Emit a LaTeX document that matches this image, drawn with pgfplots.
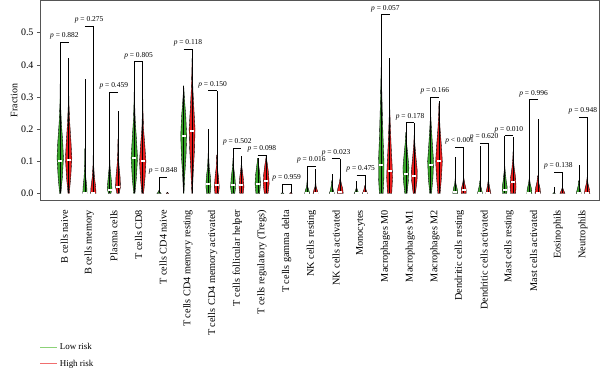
\documentclass[border=0pt]{standalone}
\usepackage{fontspec}
\setmainfont{Liberation Serif}
\usepackage{pgfplots}
\pgfplotsset{compat=1.18}
\definecolor{vgreen}{RGB}{55,165,40}
\definecolor{vred}{RGB}{232,28,28}
\definecolor{framec}{RGB}{85,85,85}
\definecolor{lgreen}{RGB}{140,210,120}
\definecolor{lred}{RGB}{240,110,110}
% violin half-profiles: y  halfwidth (x units)
\newcommand{\V}[4]{%
  \addplot[forget plot, draw=black, line width=0.35pt, fill=#2] table[x expr=#1+\thisrow{w}, y=y, row sep=\\]{y w\\#4};
  \addplot[forget plot, draw=black, line width=0.35pt, fill=#2] table[x expr=#1-\thisrow{w}, y=y, row sep=\\]{y w\\#4};
  \addplot[forget plot, black, line width=0.45pt] coordinates {(#1,0) (#1,#3)};
}
\newcommand{\M}[2]{\addplot[forget plot, only marks, mark=-, mark size=2pt, mark options={draw=white, line width=2pt}] coordinates {(#1,#2)};}
\newcommand{\Pv}[5]{%
  \addplot[forget plot, black, line width=0.45pt] coordinates {(#1,#4) (#2,#4)};
  \node[anchor=base, yshift=4.5bp, font=\fontsize{7.5}{8}\selectfont] at (axis cs:#3,#4) {\textit{p} #5};
}
\begin{document}
\begin{tikzpicture}
\begin{axis}[
  name=ax,
  width=559bp, height=200bp, scale only axis,
  xmin=0.01, xmax=22.65, ymin=-0.022, ymax=0.6,
  xtick={1,2,3,4,5,6,7,8,9,10,11,12,13,14,15,16,17,18,19,20,21,22},
  xticklabels={B cells naive, B cells memory, Plasma cells, T cells CD8, T cells CD4 naive, T cells CD4 memory resting, T cells CD4 memory activated, T cells follicular helper, T cells regulatory (Tregs), T cells gamma delta, NK cells resting, NK cells activated, Monocytes, Macrophages M0, Macrophages M1, Macrophages M2, Dendritic cells resting, Dendritic cells activated, Mast cells resting, Mast cells activated, Eosinophils, Neutrophils},
  xticklabel style={rotate=90, anchor=east, font=\fontsize{10.3}{12}\selectfont},
  xticklabel shift=3bp,
  major x tick style={draw=none},
  ytick={0,0.1,0.2,0.3,0.4,0.5},
  yticklabel style={font=\fontsize{10}{12}\selectfont, /pgf/number format/fixed, /pgf/number format/fixed zerofill, /pgf/number format/precision=1, /pgf/number format/assume math mode=true},
  tick align=outside, ytick pos=left, xtick pos=bottom,
  major y tick style={framec, line width=0.6pt},
  major tick length=3bp,
  axis line style={framec, line width=0.8pt},
  ylabel={Fraction},
  ylabel style={at={(axis description cs:-0.0465,0.5)}, anchor=center, font=\fontsize{10}{12}\selectfont},
  legend style={at={(axis description cs:0,-0.695)}, anchor=north west, draw=none, fill=none, font=\fontsize{9}{10}\selectfont, inner xsep=0pt, row sep=4.5bp},
  legend cell align=left,
  legend image code/.code={\draw[#1, line width=0.6pt] (0bp,0bp) -- (17bp,0bp);},
]
\addlegendimage{lgreen}
\addlegendentry{Low risk}
\addlegendimage{lred}
\addlegendentry{High risk}
% 1 B cells naive
\V{0.83}{vgreen}{0.47}{0 0\\0 0.025\\0.05 0.085\\0.11 0.13\\0.16 0.10\\0.22 0.045\\0.28 0.012\\0.36 0\\}
\V{1.17}{vred}{0.42}{0 0\\0 0.025\\0.05 0.085\\0.11 0.13\\0.16 0.095\\0.22 0.045\\0.28 0.012\\0.34 0\\}
\M{0.83}{0.10}\M{1.17}{0.105}
\Pv{0.83}{1.17}{1}{0.47}{= 0.882}
% 2 B cells memory
\V{1.83}{vgreen}{0.357}{0 0\\0 0.085\\0.02 0.075\\0.05 0.035\\0.09 0.01\\0.14 0\\}
\V{2.17}{vred}{0.52}{0 0\\0 0.11\\0.02 0.095\\0.05 0.045\\0.09 0.012\\0.15 0\\}
\M{1.83}{0.0}\M{2.17}{0.0}
\Pv{1.83}{2.17}{2}{0.52}{= 0.275}
% 3 Plasma cells
\V{2.83}{vgreen}{0.316}{0 0\\0 0.05\\0.015 0.095\\0.04 0.07\\0.08 0.02\\0.12 0\\}
\V{3.17}{vred}{0.255}{0 0\\0 0.045\\0.02 0.10\\0.05 0.085\\0.09 0.035\\0.13 0.01\\0.17 0\\}
\M{2.83}{0.012}\M{3.17}{0.02}
\Pv{2.83}{3.17}{3}{0.316}{= 0.459}
% 4 T cells CD8
\V{3.83}{vgreen}{0.41}{0 0\\0 0.025\\0.05 0.085\\0.11 0.13\\0.17 0.085\\0.23 0.035\\0.29 0.01\\0.35 0\\}
\V{4.17}{vred}{0.41}{0 0\\0 0.035\\0.05 0.095\\0.10 0.13\\0.15 0.085\\0.20 0.035\\0.26 0.01\\0.32 0\\}
\M{3.83}{0.11}\M{4.17}{0.10}
\Pv{3.83}{4.17}{4}{0.41}{= 0.805}
% 5 T cells CD4 naive
\V{4.83}{vgreen}{0.05}{0 0\\0 0.085\\0.005 0.025\\0.01 0\\}
\V{5.17}{vred}{0.005}{0 0\\0 0.045\\0.004 0\\}
\Pv{4.83}{5.17}{5}{0.05}{= 0.848}
% 6 T cells CD4 memory resting
\V{5.83}{vgreen}{0.335}{0 0\\0 0.01\\0.06 0.045\\0.12 0.095\\0.18 0.12\\0.24 0.085\\0.29 0.035\\0.335 0\\}
\V{6.17}{vred}{0.45}{0 0\\0 0.01\\0.07 0.05\\0.14 0.10\\0.20 0.12\\0.26 0.075\\0.32 0.035\\0.38 0.01\\0.42 0\\}
\M{5.83}{0.18}\M{6.17}{0.195}
\Pv{5.83}{6.17}{6}{0.45}{= 0.118}
% 7 T cells CD4 memory activated
\V{6.83}{vgreen}{0.20}{0 0\\0 0.07\\0.02 0.10\\0.05 0.085\\0.08 0.035\\0.12 0.01\\0.16 0\\}
\V{7.17}{vred}{0.32}{0 0\\0 0.075\\0.02 0.10\\0.05 0.07\\0.08 0.025\\0.12 0\\}
\M{6.83}{0.03}\M{7.17}{0.025}
\Pv{6.83}{7.17}{7}{0.32}{= 0.150}
% 8 T cells follicular helper
\V{7.83}{vgreen}{0.14}{0 0\\0 0.07\\0.02 0.10\\0.05 0.075\\0.08 0.025\\0.11 0\\}
\V{8.17}{vred}{0.115}{0 0\\0 0.07\\0.02 0.10\\0.05 0.07\\0.08 0.02\\0.10 0\\}
\M{7.83}{0.025}\M{8.17}{0.025}
\Pv{7.83}{8.17}{8}{0.14}{= 0.502}
% 9 Tregs
\V{8.83}{vgreen}{0.11}{0 0\\0 0.075\\0.03 0.11\\0.06 0.085\\0.09 0.035\\0.11 0\\}
\V{9.17}{vred}{0.12}{0 0\\0 0.075\\0.03 0.12\\0.06 0.10\\0.09 0.05\\0.115 0\\}
\M{8.83}{0.03}\M{9.17}{0.04}
\Pv{8.83}{9.17}{9}{0.12}{= 0.098}
% 10 T cells gamma delta
\V{9.83}{vgreen}{0.03}{0 0\\0 0.05\\0.003 0\\}
\V{10.17}{vred}{0.03}{0 0\\0 0.05\\0.003 0\\}
\Pv{9.83}{10.17}{10}{0.03}{= 0.959}
% 11 NK cells resting
\V{10.83}{vgreen}{0.084}{0 0\\0 0.10\\0.01 0.07\\0.02 0.025\\0.04 0\\}
\V{11.17}{vred}{0.075}{0 0\\0 0.10\\0.01 0.07\\0.02 0.025\\0.04 0\\}
\M{10.83}{0.0}\M{11.17}{0.0}
\Pv{10.83}{11.17}{11}{0.084}{= 0.016}
% 12 NK cells activated
\V{11.83}{vgreen}{0.06}{0 0\\0 0.10\\0.01 0.06\\0.025 0.02\\0.04 0\\}
\V{12.17}{vred}{0.108}{0 0\\0 0.12\\0.015 0.10\\0.03 0.045\\0.05 0\\}
\M{11.83}{0.0}\M{12.17}{0.005}
\Pv{11.83}{12.17}{12}{0.108}{= 0.023}
% 13 Monocytes
\V{12.83}{vgreen}{0.04}{0 0\\0 0.095\\0.008 0.045\\0.02 0\\}
\V{13.17}{vred}{0.056}{0 0\\0 0.10\\0.01 0.05\\0.025 0\\}
\M{12.83}{0.0}\M{13.17}{0.0}
\Pv{12.83}{13.17}{13}{0.056}{= 0.475}
% 14 Macrophages M0
\V{13.83}{vgreen}{0.556}{0 0\\0 0.075\\0.05 0.11\\0.10 0.11\\0.17 0.075\\0.25 0.045\\0.33 0.02\\0.40 0\\}
\V{14.17}{vred}{0.42}{0 0\\0 0.085\\0.05 0.12\\0.09 0.10\\0.15 0.06\\0.22 0.025\\0.28 0\\}
\M{13.83}{0.088}\M{14.17}{0.07}
\Pv{13.83}{14.17}{14}{0.556}{= 0.057}
% 15 Macrophages M1
\V{14.83}{vgreen}{0.22}{0 0\\0 0.045\\0.04 0.10\\0.08 0.12\\0.12 0.075\\0.16 0.025\\0.19 0\\}
\V{15.17}{vred}{0.22}{0 0\\0 0.045\\0.04 0.11\\0.07 0.12\\0.11 0.07\\0.15 0.025\\0.19 0\\}
\M{14.83}{0.06}\M{15.17}{0.055}
\Pv{14.83}{15.17}{15}{0.22}{= 0.178}
% 16 Macrophages M2
\V{15.83}{vgreen}{0.30}{0 0\\0 0.035\\0.05 0.095\\0.10 0.12\\0.15 0.075\\0.20 0.035\\0.25 0\\}
\V{16.17}{vred}{0.286}{0 0\\0 0.045\\0.05 0.10\\0.10 0.135\\0.15 0.095\\0.20 0.045\\0.25 0.012\\0.28 0\\}
\M{15.83}{0.087}\M{16.17}{0.102}
\Pv{15.83}{16.17}{16}{0.30}{= 0.166}
% 17 Dendritic cells resting
\V{16.83}{vgreen}{0.112}{0 0\\0 0.10\\0.015 0.075\\0.03 0.025\\0.05 0\\}
\V{17.17}{vred}{0.144}{0 0\\0 0.10\\0.015 0.095\\0.03 0.045\\0.05 0\\}
\M{16.83}{0.005}\M{17.17}{0.012}
\Pv{16.83}{17.17}{17}{0.144}{< 0.001}
% 18 Dendritic cells activated
\V{17.83}{vgreen}{0.146}{0 0\\0 0.10\\0.01 0.07\\0.025 0.025\\0.04 0\\}
\V{18.17}{vred}{0.156}{0 0\\0 0.10\\0.01 0.075\\0.025 0.035\\0.045 0\\}
\M{17.83}{0.0}\M{18.17}{0.0}
\Pv{17.83}{18.17}{18}{0.156}{= 0.620}
% 19 Mast cells resting
\V{18.83}{vgreen}{0.18}{0 0\\0 0.085\\0.02 0.10\\0.04 0.06\\0.07 0.02\\0.09 0\\}
\V{19.17}{vred}{0.174}{0 0\\0 0.10\\0.02 0.12\\0.05 0.10\\0.08 0.045\\0.11 0.01\\0.13 0\\}
\M{18.83}{0.01}\M{19.17}{0.035}
\Pv{18.83}{19.17}{19}{0.18}{= 0.010}
% 20 Mast cells activated
\V{19.83}{vgreen}{0.292}{0 0\\0 0.10\\0.015 0.085\\0.03 0.035\\0.05 0\\}
\V{20.17}{vred}{0.232}{0 0\\0 0.11\\0.015 0.095\\0.035 0.035\\0.055 0\\}
\M{19.83}{0.0}\M{20.17}{0.0}
\Pv{19.83}{20.17}{20}{0.292}{= 0.996}
% 21 Eosinophils
\V{20.83}{vgreen}{0.02}{0 0\\0 0.045\\0.003 0\\}
\V{21.17}{vred}{0.066}{0 0\\0 0.10\\0.012 0.035\\0.02 0\\}
\Pv{20.83}{21.17}{21}{0.066}{= 0.138}
% 22 Neutrophils
\V{21.83}{vgreen}{0.087}{0 0\\0 0.10\\0.01 0.07\\0.025 0.02\\0.04 0\\}
\V{22.17}{vred}{0.237}{0 0\\0 0.11\\0.015 0.085\\0.03 0.035\\0.05 0\\}
\M{21.83}{0.0}\M{22.17}{0.0}
\Pv{21.83}{22.17}{22}{0.237}{= 0.948}
\coordinate (fsw) at (rel axis cs:0,0);
\coordinate (fne) at (rel axis cs:1,1);
\end{axis}
\pgfresetboundingbox
\useasboundingbox ([xshift=-40bp,yshift=-170bp]fsw) rectangle ([xshift=1bp,yshift=0.5bp]fne);
\end{tikzpicture}
\end{document}
